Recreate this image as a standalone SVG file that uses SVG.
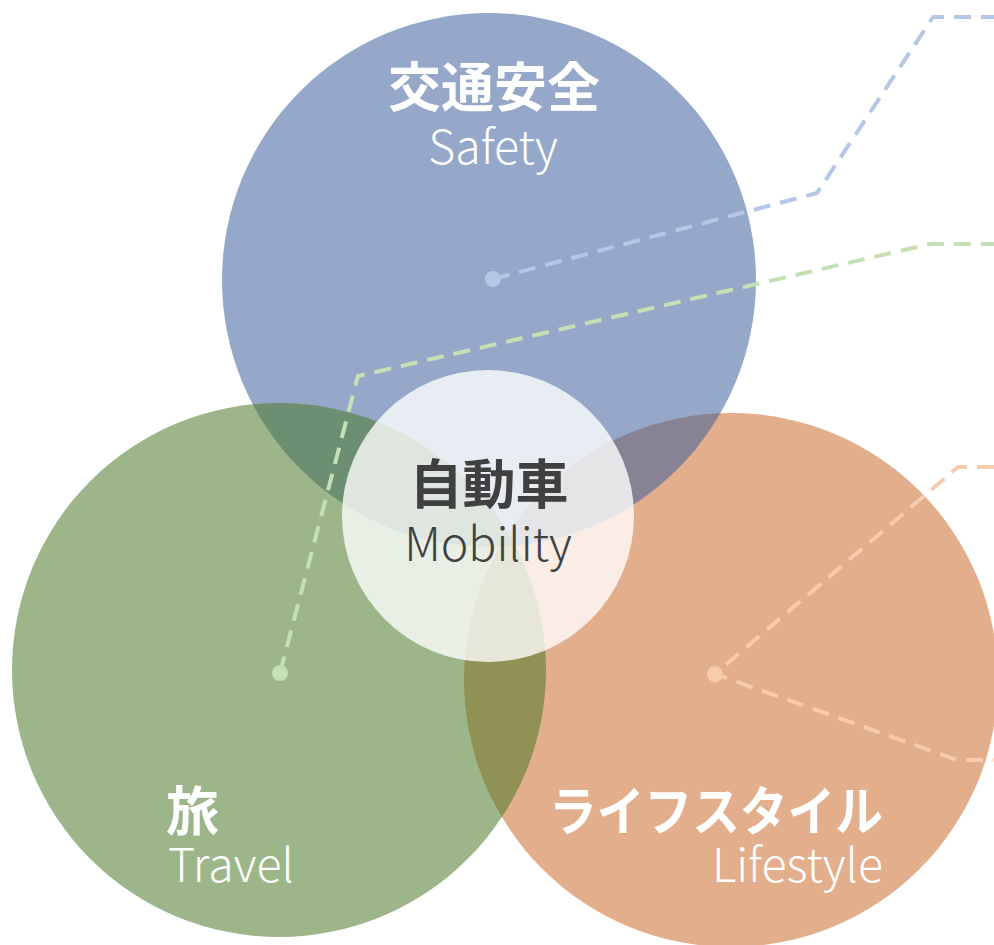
<svg xmlns="http://www.w3.org/2000/svg" width="994" height="945" viewBox="0 0 994 945">
<style>
.circ{fill-opacity:0.55}
.jp{font-family:"Noto Sans CJK JP","Noto Sans",sans-serif;font-weight:700;font-size:53px}
.en{font-family:"Noto Sans CJK JP","Noto Sans",sans-serif;font-weight:300;font-size:46.5px}
.w{fill:#ffffff}
.d{fill:#404040}
.ln{fill:none;stroke-width:4;stroke-dasharray:17 10}
</style>
<rect width="994" height="945" fill="#ffffff"/>
<g id="lifestyle">
<circle class="circ" cx="731" cy="680" r="267" fill="#CA6C2C"/>
</g>
<g id="safety">
<circle class="circ" cx="489" cy="280" r="267" fill="#3E619D"/>
</g>
<g id="travel">
<circle class="circ" cx="279" cy="670" r="267" fill="#4B7A2A"/>
</g>
<g id="connectors">
<polyline class="ln" stroke="#B4C7E7" points="493,279 817,193 933,17 994,17"/>
<circle cx="493" cy="279" r="8" fill="#B4C7E7"/>
<polyline class="ln" stroke="#C5E0B4" points="280,673 358,376 930,244 994,244"/>
<circle cx="280" cy="673" r="8" fill="#C5E0B4"/>
<polyline class="ln" stroke="#F8CBAD" points="994,467 958,467 715,674 957,760 994,760"/>
<circle cx="715" cy="674" r="8" fill="#F8CBAD"/>
</g>
<g id="mobility">
<circle cx="488" cy="516" r="146" fill="#ffffff" fill-opacity="0.78"/>
<text class="jp d" x="489" y="504" text-anchor="middle">自動車</text>
<text class="en d" x="488" y="561" text-anchor="middle">Mobility</text>
</g>
<g id="safety-label">
<text class="jp w" x="494" y="107" text-anchor="middle">交通安全</text>
<text class="en w" x="493" y="164" text-anchor="middle">Safety</text>
</g>
<g id="travel-label">
<text class="jp w" x="166" y="831">旅</text>
<text class="en w" x="168" y="882">Travel</text>
</g>
<g id="lifestyle-label">
<text class="jp w" x="549" y="831" textLength="334" lengthAdjust="spacingAndGlyphs">ライフスタイル</text>
<text class="en w" x="883" y="882" text-anchor="end">Lifestyle</text>
</g>
</svg>
